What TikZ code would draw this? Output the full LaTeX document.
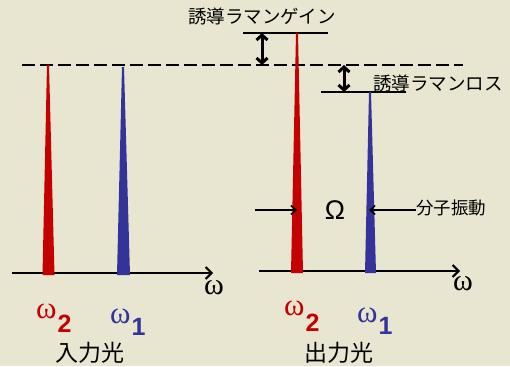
\documentclass[tikz,border=0pt]{standalone}
\usepackage{fontspec}
\setmainfont{Liberation Serif}
\newfontfamily\jpfont{Noto Sans CJK JP}
\newfontfamily\arialfont{Liberation Sans}
\usetikzlibrary{arrows.meta, positioning}
\definecolor{colBg}{RGB}{232,230,208}
\definecolor{colPump}{RGB}{196,0,0}
\definecolor{colStokes}{RGB}{51,51,153}
\newcommand{\subdig}[1]{{\arialfont\bfseries\fontsize{25}{25}\selectfont #1}}

\begin{document}
\begin{tikzpicture}[
            x=1pt, y=-1pt,
            axis/.style={line width=2pt, -{Straight Barb[length=6pt, width=12pt]}},
            level/.style={line width=1.5pt},
            gapdbl/.style={line width=3pt, {Straight Barb[length=5pt, width=11pt]}-{Straight Barb[length=5pt, width=11pt]}},
            pointer/.style={line width=1.5pt, -{Straight Barb[length=5pt, width=9pt]}},
            jp/.style={font=\jpfont\fontsize{18.5}{20}\selectfont, inner sep=0pt},
            jpbig/.style={font=\jpfont\fontsize{23}{25}\selectfont, inner sep=0pt},
            wlbl/.style={font=\fontsize{31}{31}\selectfont, inner sep=0pt, anchor=base west},
            waxis/.style={font=\fontsize{30}{30}\selectfont, inner sep=0pt}
        ]

        %% ── FOND ──────────────────────────
        \useasboundingbox (0,0) rectangle (510,366);
        \fill[colBg] (0,0) rectangle (510,366);

        %% ── NIVEAUX ──────────────────────────
        \coordinate (ref_l) at (22,65);
        \coordinate (ref_r) at (463,65);
        \draw[line width=2pt, dash pattern=on 13pt off 5pt] (ref_l) -- (ref_r);

        \coordinate (gain_l) at (243,33);
        \coordinate (gain_r) at (328,33);
        \draw[level] (gain_l) -- (gain_r);

        \coordinate (loss_l) at (321,92);
        \coordinate (loss_r) at (406,92);
        \draw[level] (loss_l) -- (loss_r);

        % doubles flèches gain / perte
        \coordinate (gain_top) at (262,33);
        \coordinate (gain_bot) at (262,65);
        \draw[gapdbl] (gain_top) -- (gain_bot);
        \coordinate (loss_top) at (344,65);
        \coordinate (loss_bot) at (344,92);
        \draw[gapdbl] (loss_top) -- (loss_bot);

        \node[jp] (gain_lbl) at (262,16) {誘導ラマンゲイン};
        \node[jp, anchor=west] (loss_lbl) at (373,83) {誘導ラマンロス};

        %% ── AXES ──────────────────────────
        \coordinate (ax_in_0) at (12,273);
        \coordinate (ax_in_1) at (213,273);
        \draw[axis] (ax_in_0) -- (ax_in_1);
        \node[waxis, anchor=base west] (w_in) at (204,294) {ω};

        \coordinate (ax_out_0) at (259,271);
        \coordinate (ax_out_1) at (460,271);
        \draw[axis] (ax_out_0) -- (ax_out_1);
        \node[waxis, anchor=base west] (w_out) at (453,290) {ω};

        %% ── PICS ──────────────────────────
        \fill[colPump] (47,65) -- (49,65) -- (54.5,275) -- (42.5,275) -- cycle;
        \fill[colStokes] (122,67) -- (124,67) -- (130,275) -- (117,275) -- cycle;
        \fill[colPump] (296,33) -- (298,33) -- (303,273) -- (291,273) -- cycle;
        \fill[colStokes] (369,92) -- (371,92) -- (376,273) -- (365,273) -- cycle;

        %% ── VIBRATION MOLÉCULAIRE ──────────────────────────
        \node[font=\arialfont\fontsize{27}{27}\selectfont, inner sep=0pt] (omega_big) at (335,210) {Ω};
        \node[jp, font=\jpfont\fontsize{17.5}{19}\selectfont, anchor=west] (vib_lbl) at (416,208) {分子振動};
        \coordinate (pump_from) at (255,210);
        \coordinate (red_hit) at (297,210);
        \coordinate (blue_hit) at (369,210);
        \draw[pointer] (pump_from) -- (red_hit);
        \draw[pointer] (vib_lbl.west |- blue_hit) -- (blue_hit);

        %% ── ÉTIQUETTES ω ──────────────────────────
        \node[wlbl, text=colPump] (w2_in) at (36,318) {ω\kern1pt\raisebox{-14pt}{\subdig{2}}};
        \node[wlbl, text=colStokes] (w1_in) at (110,323) {ω\kern1pt\raisebox{-12pt}{\subdig{1}}};
        \node[wlbl, text=colPump] (w2_out) at (284,315) {ω\kern1pt\raisebox{-16pt}{\subdig{2}}};
        \node[wlbl, text=colStokes] (w1_out) at (357,322) {ω\kern1pt\raisebox{-12pt}{\subdig{1}}};

        \node[jpbig] (in_lbl) at (90,353) {入力光};
        \node[jpbig] (out_lbl) at (339,353) {出力光};

\end{tikzpicture}
\end{document}
